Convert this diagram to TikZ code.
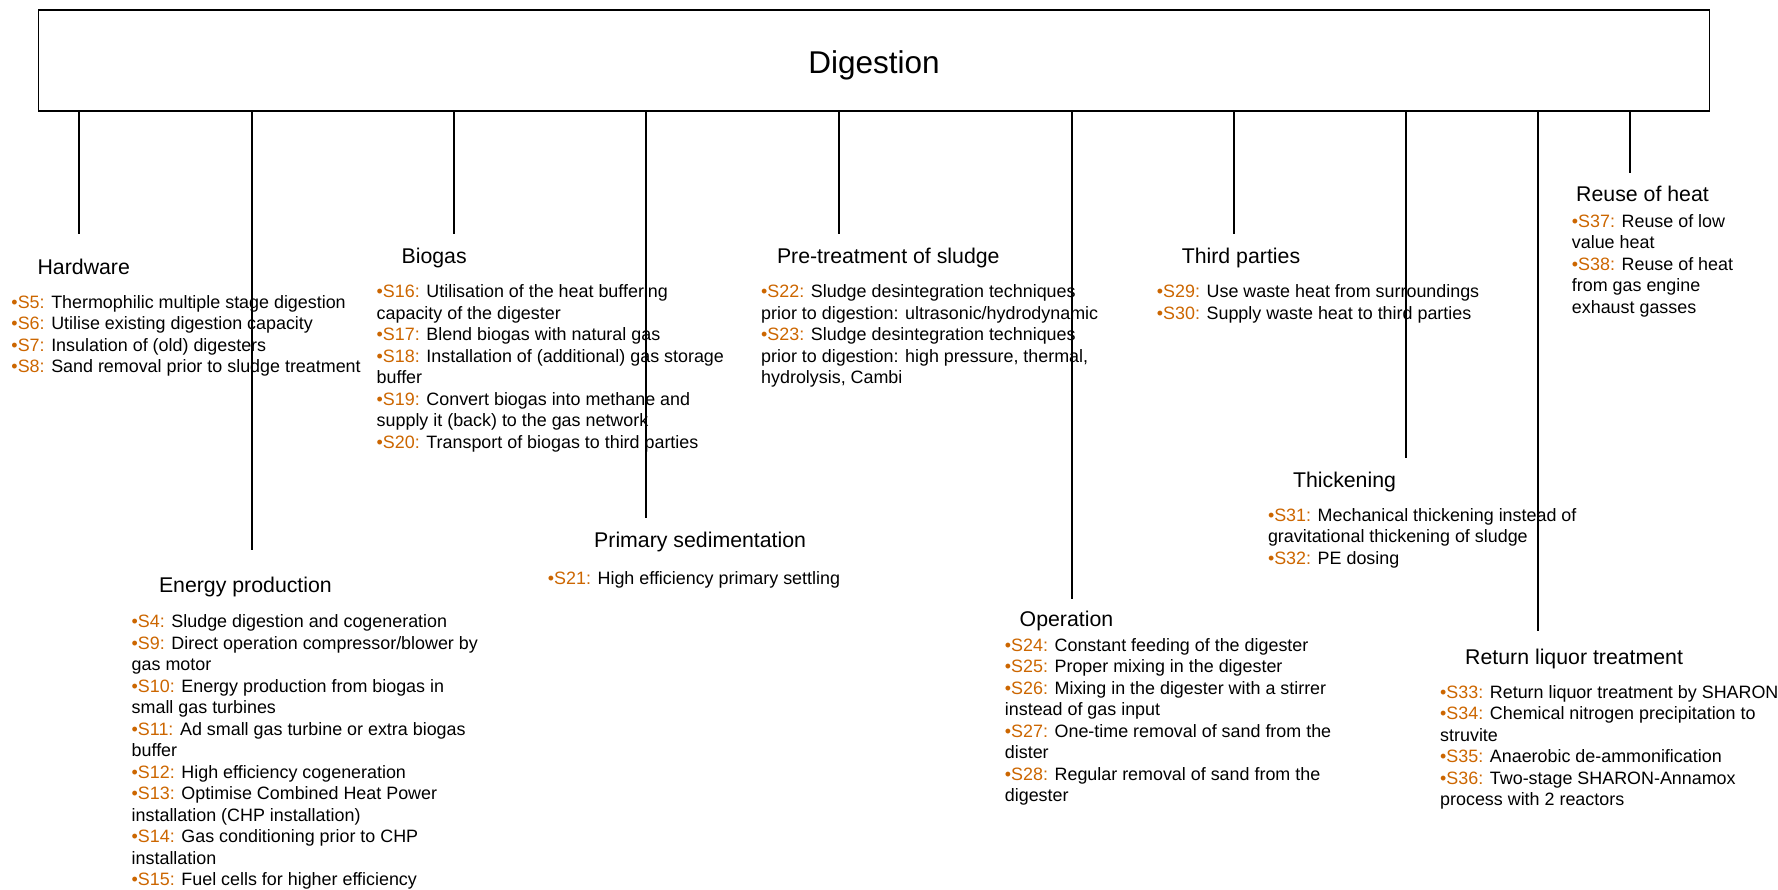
\documentclass[tikz,border=0pt]{standalone}
\usepackage{fontspec}
\setmainfont{Liberation Sans}
\usepackage{tikz}
\definecolor{cus-orange}{RGB}{204, 102, 0}
\newcommand{\sitem}[2]{{\color{cus-orange}•#1:} #2}
\tikzset{
	grphead/.style={font=\fontsize{21.3}{25}\selectfont, inner sep=0pt, anchor=base west},
	grplist/.style={font=\fontsize{17.9}{21.5}\selectfont, inner sep=0pt, anchor=north west,
		yshift=12.75pt, align=left, execute at begin node=\strut},
	conn/.style={line width=1.3pt}
}

\begin{document}
\begin{tikzpicture}[x=1pt, y=-1pt]
\useasboundingbox (0,0) rectangle (1778,890);
\node [draw, line width=1.3pt, minimum width=1671.5pt, minimum height=101pt, inner sep=0pt,
	text height=26pt, text depth=0pt, font=\fontsize{31.5}{36}\selectfont] (digest) at (874,60.5) {Digestion};

% ends of the branches
\coordinate (hw) at (79,234);
\coordinate (en) at (252,550);
\coordinate (bg) at (454,234);
\coordinate (ps) at (646,518);
\coordinate (pt) at (839,234);
\coordinate (op) at (1072,599);
\coordinate (tp) at (1234,234);
\coordinate (th) at (1406,458);
\coordinate (rl) at (1538,631);
\coordinate (rh) at (1630,173);
\foreach \c in {hw,en,bg,ps,pt,op,tp,th,rl,rh}{
	\draw [conn] (digest.south -| \c) -- (\c);
}

% Hardware
\node [grphead] (hw-head) at (37.4,275) {Hardware};
\node [grplist] (hw-list) at (11.3,308) {
	\sitem{S5}{Thermophilic multiple stage digestion}\\
	\sitem{S6}{Utilise existing digestion capacity}\\
	\sitem{S7}{Insulation of (old) digesters}\\
	\sitem{S8}{Sand removal prior to sludge treatment}};

% Energy production
\node [grphead] (en-head) at (158.8,592.5) {Energy production};
\node [grplist] (en-list) at (131.5,627.5) {
	\sitem{S4}{Sludge digestion and cogeneration}\\
	\sitem{S9}{Direct operation compressor/blower by}\\
	gas motor\\
	\sitem{S10}{Energy production from biogas in}\\
	small gas turbines\\
	\sitem{S11}{Ad small gas turbine or extra biogas}\\
	buffer\\
	\sitem{S12}{High efficiency cogeneration}\\
	\sitem{S13}{Optimise Combined Heat Power}\\
	installation (CHP installation)\\
	\sitem{S14}{Gas conditioning prior to CHP}\\
	installation\\
	\sitem{S15}{Fuel cells for higher efficiency}};

% Biogas
\node [grphead] (bg-head) at (401.4,264) {Biogas};
\node [grplist] (bg-list) at (376.5,297.5) {
	\sitem{S16}{Utilisation of the heat buffering}\\
	capacity of the digester\\
	\sitem{S17}{Blend biogas with natural gas}\\
	\sitem{S18}{Installation of (additional) gas storage}\\
	buffer\\
	\sitem{S19}{Convert biogas into methane and}\\
	supply it (back) to the gas network\\
	\sitem{S20}{Transport of biogas to third parties}};

% Primary sedimentation
\node [grphead] (ps-head) at (594,547) {Primary sedimentation};
\node [grplist] (ps-list) at (547.7,582) {
	\sitem{S21}{High efficiency primary settling}};

% Pre-treatment of sludge
\node [grphead] (pt-head) at (776.8,264) {Pre-treatment of sludge};
\node [grplist] (pt-list) at (761,297.5) {
	\sitem{S22}{Sludge desintegration techniques}\\
	prior to digestion: ultrasonic/hydrodynamic\\
	\sitem{S23}{Sludge desintegration techniques}\\
	prior to digestion: high pressure, thermal,\\
	hydrolysis, Cambi};

% Operation
\node [grphead] (op-head) at (1019.5,626.5) {Operation};
\node [grplist] (op-list) at (1004.7,651) {
	\sitem{S24}{Constant feeding of the digester}\\
	\sitem{S25}{Proper mixing in the digester}\\
	\sitem{S26}{Mixing in the digester with a stirrer}\\
	instead of gas input\\
	\sitem{S27}{One-time removal of sand from the}\\
	dister\\
	\sitem{S28}{Regular removal of sand from the}\\
	digester};

% Third parties
\node [grphead] (tp-head) at (1181.6,264) {Third parties};
\node [grplist] (tp-list) at (1156.7,297.5) {
	\sitem{S29}{Use waste heat from surroundings}\\
	\sitem{S30}{Supply waste heat to third parties}};

% Thickening
\node [grphead] (th-head) at (1292.8,487) {Thickening};
\node [grplist] (th-list) at (1267.8,521) {
	\sitem{S31}{Mechanical thickening instead of}\\
	gravitational thickening of sludge\\
	\sitem{S32}{PE dosing}};

% Return liquor treatment
\node [grphead] (rl-head) at (1465,664) {Return liquor treatment};
\node [grplist] (rl-list) at (1440,698) {
	\sitem{S33}{Return liquor treatment by SHARON}\\
	\sitem{S34}{Chemical nitrogen precipitation to}\\
	struvite\\
	\sitem{S35}{Anaerobic de-ammonification}\\
	\sitem{S36}{Two-stage SHARON-Annamox}\\
	process with 2 reactors};

% Reuse of heat
\node [grphead] (rh-head) at (1576,201.5) {Reuse of heat};
\node [grplist] (rh-list) at (1571.7,227) {
	\sitem{S37}{Reuse of low}\\
	value heat\\
	\sitem{S38}{Reuse of heat}\\
	from gas engine\\
	exhaust gasses};
\end{tikzpicture}
\end{document}
